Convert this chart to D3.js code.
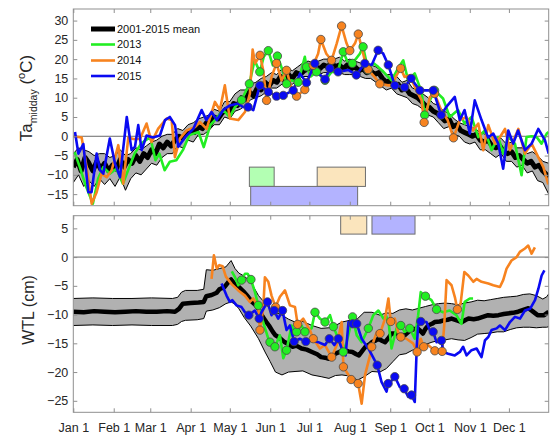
<!DOCTYPE html>
<html>
<head>
<meta charset="utf-8">
<script src="https://cdn.jsdelivr.net/npm/d3@7"></script>
<style>
  html, body { margin: 0; padding: 0; background: #fff; }
  svg { display: block; font-family: "Liberation Sans", Arial, Helvetica, sans-serif; }
</style>
</head>
<body>
<svg id="chart" width="550" height="435"></svg>
<script>
// ---------- data (day of year, 0 = Jan 1) ----------
const monthDays   = [0, 31, 59, 90, 120, 151, 181, 212, 243, 273, 304, 334];
const monthLabels = ["Jan 1","Feb 1","Mar 1","Apr 1","May 1","Jun 1","Jul 1","Aug 1","Sep 1","Oct 1","Nov 1","Dec 1"];
const taTicks  = [-15, -10, -5, 0, 5, 10, 15, 20, 25, 30];
const wtlTicks = [-25, -20, -15, -10, -5, 0, 5];

const seriesNames = ["2001-2015 mean", "2013", "2014", "2015"];

// Midday air temperature (°C): 2001-2015 mean
const taMean = [[0,-8],[3,-6],[6,-9],[9,-5.5],[12,-7],[15,-9],[18,-6.5],[21,-8.5],[24,-7],[27,-9],[30,-7.5],[33,-8.5],[36,-6],[39,-8],[42,-6],[45,-7],[48,-5],[51,-6.5],[54,-4.5],[57,-5.5],[60,-3.5],[63,-4.5],[66,-2],[69,-3],[72,-1.5],[75,-2.5],[78,-1],[81,0],[84,-0.5],[87,1],[90,1.5],[93,1],[96,2.5],[99,2],[102,3.5],[105,3],[108,5],[111,4.5],[114,6],[117,7],[120,6.5],[123,8.5],[126,8],[129,10],[132,9.5],[135,11.5],[138,10.5],[141,12.5],[144,12],[147,14],[150,13],[153,14.5],[156,14],[159,15.5],[162,14.5],[165,16],[168,15],[171,16.5],[174,16],[177,17],[180,17.5],[183,17],[186,18],[189,17.5],[192,18.5],[195,18],[198,19],[201,18],[204,18.5],[207,17.5],[210,18.5],[213,17.5],[216,18],[219,17],[222,17.5],[225,16.5],[228,17],[231,16],[234,16.5],[237,15],[240,14],[243,14.5],[246,13],[249,13.5],[252,12],[255,12.5],[258,11],[261,10.5],[264,10],[267,9],[270,8],[273,7.5],[276,6.5],[279,6],[282,5],[285,4],[288,4.5],[291,2.5],[294,3],[297,1.5],[300,1],[303,0.5],[306,0],[309,0.5],[312,-1],[315,-1.5],[318,-1],[321,-2.5],[324,-3],[327,-2.5],[330,-4],[333,-4.5],[336,-4],[339,-5.5],[342,-5],[345,-6],[348,-7],[351,-6.5],[354,-8],[357,-7.5],[360,-9],[363,-10],[364.5,-10.5]];
// spread of the mean: [day, low, high]
const taBand = [[0,-12,-4.5],[4,-10,-3],[8,-13,-3.5],[12,-11.5,-4],[16,-13,-5],[20,-11,-4.5],[24,-12.5,-4.5],[28,-11,-5.5],[32,-13,-5],[36,-10.5,-3.5],[40,-14,-5],[44,-11,-4.5],[48,-9.5,-3],[52,-10,-3.5],[56,-8.5,-2.5],[60,-7,-1.5],[64,-7.5,-1],[68,-5.5,0],[72,-4.5,0.5],[76,-4.5,0.5],[80,-2.5,2],[84,-3,1.5],[88,-1,3],[92,-1.5,3.5],[96,0.5,4.5],[100,0.5,5],[104,1.5,5.5],[108,3,7],[112,3,6.5],[116,5,9],[120,4.5,9],[124,6.5,11],[128,7,12],[132,8,12],[136,9.5,13.5],[140,10,14],[144,10.5,15],[148,11.5,15.5],[152,12.5,16.5],[156,12.5,16],[160,13.5,17.5],[164,13.5,17.5],[168,13.5,17],[172,14.5,18],[176,15.5,19],[180,15.5,19.5],[184,16,19],[188,16,19.5],[192,16.5,20],[196,16.5,20],[200,16.5,20],[204,16.5,20.5],[208,16,19.5],[212,16,20],[216,16,19.5],[220,15.5,19],[224,15,18.5],[228,15,18.5],[232,14,18],[236,13,17],[240,12,16],[244,12.5,16],[248,11,15.5],[252,10.5,14],[256,10,14.5],[260,8.5,12.5],[264,8,12],[268,7,11],[272,5.5,10],[276,5,8.5],[280,3.5,8],[284,2,6.5],[288,2.5,6],[292,0.5,4.5],[296,0,3.5],[300,-1.5,3],[304,-2,2.5],[308,-1.5,2],[312,-3.5,1],[316,-3.5,0.5],[320,-4.5,0],[324,-5.5,-0.5],[328,-4.5,-0.5],[332,-6.5,-2],[336,-6.5,-1.5],[340,-8,-3],[344,-7.5,-3],[348,-9.5,-4.5],[352,-9,-4],[356,-11.5,-5],[360,-12,-6.5],[364.5,-15,-7]];

// Midday air temperature by year: [day, value, sampled (1 = campaign day)]
const ta2013 = [[1,-4.1],[5,-8],[9,-12.3],[15,-17.5],[19,-11],[23,-8],[28,-9.7],[33,-8.4],[38,-12.3],[42,-8.8],[47,-4.5],[52,-1.9],[59,-0.2],[63,-6.2],[66,-4.5],[70,-8.8],[74,-6.6],[79,-6.2],[84,-3.6],[89,0.3],[96,1.1],[100,-2.8],[105,2.9],[110,4.7],[115,6.8],[120,5],[124,7.6],[129,9.4,1],[135,13.6,1],[139,19.7],[143,16.7,1],[146,20.6],[149.5,22.2,1],[153,18.4],[156.5,20.8,1],[160,17.5],[163.5,13.6,1],[167,14.5],[172.4,14,1],[177.5,20.6],[178.8,18,1],[182,15.5],[186.5,16.7,1],[193,14.5,1],[198,16.7],[203,17],[207,21.9,1],[210,19.5],[214,18.9,1],[219.7,21.4],[222.2,23.2,1],[226,17.2,1],[230,19],[233.7,18],[237,17],[241.4,15.4],[244,14.5],[249,17.6],[253,19.7],[256.7,14.5],[261.8,16.3],[267,11.5],[269.4,5.5,1],[273,9],[277,11.9,1],[283.5,9.8],[288.6,5],[295,6.8],[300,3.3],[305.3,5],[310.5,-0.2],[315.6,1.5],[320.7,-3.6],[325.8,-0.2],[329.6,-4.5],[333.5,-0.2],[338.6,-1.9],[343.7,-10.1],[347.5,-0.2],[351.4,0],[355.2,-0.2],[359,-1.9],[363,0.7],[364.5,1.1]];
const ta2014 = [[0,0],[6.4,-0.3],[10.2,-8],[14.1,-17.5],[17.9,-14.5],[21.7,-9.7],[25.6,-10.6],[29.4,-8.8],[34.5,-2.3],[38.3,-12.3],[42.2,-0.3],[46,-0.7],[51.1,-0.7],[56.2,3.3],[60,-1.5],[65.1,2],[71.5,4.6],[75.4,4.2],[77.9,-5.4],[81.7,-0.6],[86.9,1.5],[93.3,2.4],[97.1,3.7],[102.2,1.9],[108.6,8.9],[112.4,6.8],[116.2,13.2],[120,4.6],[126.5,4.2],[131.6,6.3],[135.4,11.1],[137.5,22.5],[139.4,18.9],[143.2,21,1],[145.6,17.1],[148.2,9.3,1],[152,15.4],[155.8,18.9,1],[159.7,14.5],[163.5,17.1,1],[167.3,12.4],[171.2,10.4,1],[177.5,12.1,1],[183.9,18.4,1],[187.7,21.4],[189.8,25.1,1],[194,21.4],[198,19.7,1],[202,24.1],[205.7,28.6,1],[209.5,24.1],[212,22.2,1],[216,24.1],[218.5,26.5,1],[223.5,19.7],[226,17.3,1],[231,15.4],[235,13.6,1],[241.4,13.2],[244,13.2],[247.8,15.8],[251,17.6,1],[254,15.4],[258,15.8],[263,11.9],[267,9.4],[269,3.6,1],[273.4,10.2],[277,11.1,1],[282,6.8],[287,4.2],[291.5,-0.4,1],[296.3,4.2],[301.4,5],[306.5,1.5],[310.5,3.3],[314.3,-3.6],[318.2,2.9],[323.3,-1.9],[327.2,-0.2],[331,1.9],[334.8,-3.6],[338.6,-0.2],[341.2,1.9],[346.3,-4.5],[351.4,-1.9],[356.5,-5.4],[360.4,-8],[364.2,-12.5]];
const ta2015 = [[1.3,1.1],[3.9,-4.5],[7.7,-2],[11.5,-14.5],[14,-14.5],[17.9,-4.5],[20.5,-8.8],[23,-9.7],[28,-0.6],[32,-7.1],[35.8,-10.6],[41,5],[44.7,-3.6],[47.3,-2.7],[49.8,2.9],[52.4,-3.6],[56.2,0.2],[61,-0.3],[66.4,0.2],[70.3,4.2],[74,5],[78,2.9],[80.5,-2.7],[85.6,-0.3],[92,1.9],[98.4,6.8],[102,4.2],[106,6.3],[110,4.2],[115,6.8],[120,8],[126.5,8.5],[130,7.6],[134,7.6,1],[138,6.8],[143,13.2,1],[149.5,11.5,1],[155.8,10.4,1],[161,10.6,1],[168.6,11.9,1],[173.8,16.3],[178.8,13.9,1],[185.2,18.9,1],[189,16],[193,14.8,1],[196.7,17.6,1],[203,16.7,1],[210.8,17.2],[217,15.9,1],[223.5,18.9,1],[228.8,18.5],[233.7,22.3,1],[237.5,21.5],[241.5,18.5,1],[246.5,13.2,1],[254,12.7,1],[259,15,1],[265.7,11.9,1],[276,11.9,1],[282,5.5,1],[286,7.6],[292.5,10.2],[296.3,4.2],[300,6.8],[304,0.7],[307.8,9.3],[313,4.2],[318,-0.3],[322,0.7],[325.8,-1.9],[329.6,-8.4],[333.5,1.5],[337.3,-1.9],[341,1.5],[346.3,-3.6],[351.4,-1.9],[356.5,1.9],[361.6,-1],[364.5,-4.5]];

// Water table level (cm): 2001-2015 mean and spread
const wtlMean = [[0,-9.5],[8,-9.6],[16,-9.4],[24,-9.5],[32,-9.6],[40,-9.5],[48,-9.4],[56,-9.5],[64,-9.5],[72,-9.4],[78,-9.5],[81,-9.0],[84,-8.1],[90,-8.0],[96,-7.9],[100,-7.8],[102,-6.8],[106,-6.6],[110,-6.2],[112,-5.6],[116,-5.2],[119,-4.3],[121,-3.9],[123,-4.5],[127,-5.2],[131,-6.1],[134,-6.9],[137,-7.8],[140,-8.4],[142,-9.0],[145,-10.3],[148,-11.3],[150,-11.9],[153,-13.0],[155,-13.6],[158,-14.0],[162,-14.8],[165,-15.1],[168,-15.6],[171,-15.4],[175,-15.9],[179,-16.1],[183,-16.5],[187,-16.9],[190,-17.4],[193,-17.5],[196,-17.7],[199,-17.2],[201,-16.8],[204,-16.5],[208,-16.2],[211,-16.4],[214,-16.5],[217,-16.9],[219,-17.1],[222,-16.2],[224,-15.6],[227,-15.2],[229,-14.8],[232,-14.5],[234,-14.2],[237,-14.6],[239,-14.8],[242,-14.0],[244,-13.3],[247,-13.3],[250,-13.5],[254,-13.6],[257,-13.0],[259,-12.7],[262,-12.5],[264,-12.4],[266,-12.8],[268,-13.3],[270,-12.5],[272,-11.9],[275,-11.6],[277,-11.3],[281,-11.2],[284,-11.0],[287,-10.9],[290,-10.7],[294,-11.0],[298,-11.3],[301,-10.9],[303,-10.7],[307,-10.8],[310,-10.7],[314,-10.4],[318,-10.1],[322,-10.2],[326,-10.1],[330,-9.9],[333,-9.8],[337,-9.7],[341,-9.5],[345,-9.2],[349,-8.9],[352,-9.4],[356,-10.1],[361,-10.1],[364.5,-9.5]];
const wtlBand = [[0,-11.9,-7.2],[15,-11.8,-7.1],[30,-11.9,-7.2],[45,-11.8,-7.2],[60,-11.9,-7.1],[76,-11.9,-7.2],[80,-11.7,-7.0],[83,-11.2,-6.1],[86,-11.0,-5.8],[95,-10.9,-5.8],[100,-10.7,-5.6],[102,-9.4,-2.2],[107,-9.2,-2.3],[112,-8.8,-2.0],[117,-8.1,-1.7],[121,-7.8,-0.6],[124,-8.2,-2.0],[127,-9.0,-2.8],[131,-10.5,-3.3],[136,-12.0,-4.3],[142,-14.2,-6.7],[147,-16.5,-8.0],[151,-18.2,-9.0],[155,-20.0,-9.6],[160,-20.5,-10.1],[165,-20.0,-10.8],[170,-19.9,-11.3],[176,-19.8,-11.2],[183,-20.5,-11.9],[190,-20.8,-12.4],[196,-21.1,-12.3],[201,-20.6,-11.9],[206,-20.5,-11.3],[212,-20.7,-11.0],[218,-21.4,-10.7],[223,-20.8,-9.6],[229,-19.9,-9.6],[235,-20.0,-10.1],[240,-19.4,-9.7],[245,-18.2,-9.8],[250,-17.0,-9.2],[255,-16.8,-9.0],[260,-16.2,-9.2],[265,-15.9,-8.9],[270,-15.2,-8.6],[275,-14.8,-8.3],[280,-14.5,-8.1],[285,-14.4,-8.0],[290,-14.2,-8.1],[295,-14.4,-8.3],[300,-14.5,-8.0],[305,-14.0,-7.8],[310,-13.4,-7.5],[315,-13.3,-7.6],[320,-13.2,-7.4],[325,-13.0,-7.2],[330,-13.0,-7.0],[335,-12.6,-6.9],[340,-12.3,-6.8],[345,-12.2,-6.5],[350,-12.2,-6.4],[355,-12.3,-6.7],[360,-12.2,-7.3],[363,-12.2,-6.9],[364.5,-12.1,-6.4]];

// Water table level by year: [day, value, sampled]
const wtl2013 = [[121.5,-2.5],[124,-3.5],[126.5,-4.9],[129,-4.0,1],[131.6,-2.9],[133.6,-2.9],[136.2,-3.9,1],[139.3,-6.1],[141.8,-8.4,1],[145.6,-11.3],[149.5,-14.2],[150.8,-14.8,1],[154.6,-15.6,1],[158.4,-13.6],[161,-17.6],[163.5,-16.2,1],[167.4,-11.9],[170,-13],[171.2,-13.0,1],[175,-11.9],[177.6,-13.0,1],[182.7,-12.4],[185.3,-9.6,1],[189.1,-10.7],[193,-11.3,1],[196.8,-10.1],[199.4,-12.1,1],[203.2,-14.2],[207,-16.5,1],[209.6,-14.8],[214.1,-10.4,1],[217.3,-13.6],[221.1,-14.8],[226.2,-12.4,1],[230,-10.1],[233.9,-9.3],[237.8,-10.7],[240,-10.3],[242,-11.9],[244,-15.9],[247.8,-12.4],[251.1,-11.9,1],[254,-13.0],[258,-12.4,1],[261.8,-14.2],[264.4,-10.1],[266.4,-6.1],[270,-6.8,1],[274.6,-7.5],[278.5,-9.1,1],[283.5,-9.6],[288.6,-9.3],[293.7,-10.1],[297.6,-11.6],[300.1,-7.8],[304,-7.2],[306.5,-7.2]];
const wtl2014 = [[106,-3.8],[107.8,0.3],[110,-2.0],[112,-1.4],[114.5,-1.6],[117,-3.4],[121.4,-4.7],[126.5,-5.8],[131.6,-6.7],[135.4,-7.8],[138,-7.2],[141.8,-8.7],[143.1,-12.7,1],[145.6,-9.0],[146.9,-3.5],[149.5,-4.3],[152,-6.7],[155.1,-8.7,1],[158.4,-6.9],[162.3,-5.8],[166.1,-8.4],[170,-8.7],[172,-11.7,1],[176.3,-10.7],[181.4,-12.7],[184,-14.2,1],[189.1,-15.9],[193,-15.3],[198.1,-17.4,1],[202,-15.3],[205.8,-11.3],[207.1,-19.1,1],[211,-20.5],[213,-21.3,1],[216.3,-21.7],[218.4,-22,1],[221.1,-25.5],[223.7,-20.5],[227.5,-17.1],[228.8,-15.6,1],[232.7,-13],[235.2,-13.3,1],[239,-10.7],[241.6,-7.2],[243.4,-11.2,1],[246.5,-10.7],[249,-13],[251.1,-13.9,1],[255.4,-14.2],[260.5,-15.0],[263.6,-16.5,1],[266.4,-14.2],[268.7,-15.6,1],[272,-15.3],[277.2,-16.3,1],[282.8,-16.4,1],[284.4,-11.9],[286.2,-4.0],[290,-4.9],[292.6,-7.0],[294.5,-9.1,1],[297,-8.0],[299.8,-2.6],[302.8,-3.2],[306.7,-4.3],[309.2,-3.8],[313,-4.3],[318.2,-4.6],[322,-4.9],[327.1,-5.2],[329.6,-4.0],[332.2,-2.0],[336,-0.6],[339.9,0],[342.4,0.9],[346.3,1.5],[348.8,2.0],[351.4,0.6],[353.9,1.7]];
const wtl2015 = [[113.7,-4.6],[117.5,-6.7],[120,-7.8],[122,-7.5],[125.2,-8.4],[129,-8.7],[131.6,-9.6],[134.6,-10.1,1],[139.2,-9.3],[142.5,-10.7,1],[144.3,-9.6],[148.9,-7.8,1],[152,-10.1],[154,-9.3,1],[157.1,-10.7],[160.4,-9.3,1],[163.5,-12.7],[166.1,-11.9],[169.3,-14.7,1],[173.7,-14.2],[178.3,-14.7,1],[182.7,-14.5],[187.8,-14.8],[193,-15.3],[196.3,-14.2,1],[200.1,-15.3],[203.2,-14.2,1],[205.8,-15.9],[208.8,-17.1],[211,-11.3],[214.3,-11.6,1],[217.3,-11.6,1],[221.1,-14.2],[226.2,-15.9],[230,-17.5],[233,-18.8,1],[236.3,-21.7],[240.2,-23.4],[241.4,-22,1],[244,-21.5],[246.5,-20.8,1],[250.3,-22.6],[253.7,-22.9,1],[256.7,-24.3],[259.3,-24.0,1],[261.8,-25.2],[263.4,-15.3],[264.4,-11.9],[266.4,-11.2,1],[270.8,-11.3],[273.3,-12.7],[275.9,-13.0,1],[278.5,-14.8],[282.3,-14.5,1],[283.6,-16.5],[287.4,-16.8],[292.5,-17.1],[296.4,-16.5],[298.9,-15.6],[301.5,-17.1],[305.3,-16.2],[309.2,-15.9],[313,-17.4],[315.6,-14.5],[318.2,-13.9],[320.7,-12.7],[324.6,-12.4],[327.1,-11.9],[331,-12.7],[334.8,-11.3],[338.6,-10.4],[342.5,-10.7],[346.3,-9.3],[350.2,-9.0],[354,-7.5],[356.6,-5.5],[359.1,-3.2],[361.2,-2.3]];

// Campaign periods: [year, first day, last day, lower value, upper value]
const taPeriods  = [[2013, 135, 154, -13, -8], [2014, 187, 224, -13, -8], [2015, 136, 218, -18, -13]];
const wtlPeriods = [[2014, 205, 225, 4, 7.2], [2015, 229, 262, 4, 7.2]];

// ---------- drawing ----------
const colors = { mean: "#000000", 2013: "#22ee22", 2014: "#f7831f", 2015: "#0a0af2" };
const periodFill = { 2013: "#b3ffb3", 2014: "#fbe5bd", 2015: "#b3b3ff" };
const boxColor = "#8f8f8f";
const textColor = "#262626";

const svg = d3.select("#chart");
const x = d3.scaleLinear().domain([0, 364.5]).range([73.3, 548.7]);
const yTa  = d3.scaleLinear().domain([-18, 33]).range([205.7, 9]);
const yWtl = d3.scaleLinear().domain([-27, 7.2]).range([412.3, 215.7]);

function panel(id, y, ticks, showXLabels) {
  const [y0, y1] = y.range();
  const [x0, x1] = x.range();
  const g = svg.append("g");
  g.append("clipPath").attr("id", id).append("rect")
    .attr("x", x0).attr("y", y1).attr("width", x1 - x0).attr("height", y0 - y1);
  const plot = g.append("g").attr("clip-path", `url(#${id})`);

  const styleAxis = a => {
    a.select(".domain").remove();
    a.selectAll(".tick line").attr("stroke", boxColor);
    a.selectAll(".tick text").attr("fill", textColor).attr("font-size", 12.5)
      .attr("font-family", "Liberation Sans, Arial, sans-serif");
  };
  g.append("g").attr("transform", `translate(${x0},0)`)
    .call(d3.axisLeft(y).tickValues(ticks).tickSize(-4).tickPadding(5)).call(styleAxis);
  g.append("g").attr("transform", `translate(${x1},0)`)
    .call(d3.axisRight(y).tickValues(ticks).tickSize(-4).tickFormat("")).call(styleAxis);
  g.append("g").attr("transform", `translate(0,${y1})`)
    .call(d3.axisTop(x).tickValues(monthDays).tickSize(-4).tickFormat("")).call(styleAxis);
  g.append("g").attr("transform", `translate(0,${y0})`)
    .call(d3.axisBottom(x).tickValues(monthDays).tickSize(-4).tickPadding(10.5)
      .tickFormat((d, i) => showXLabels ? monthLabels[i] : "")).call(styleAxis);

  return { g, plot };
}

function drawData(p, y, mean, band, years, periods, meanWidth) {
  const { g, plot } = p;
  // campaign periods
  plot.selectAll("rect.period").data(periods).join("rect")
    .attr("x", d => x(d[1])).attr("width", d => x(d[2]) - x(d[1]))
    .attr("y", d => y(d[4])).attr("height", d => y(d[3]) - y(d[4]))
    .attr("fill", d => periodFill[d[0]]).attr("stroke", "#6e6e6e").attr("stroke-width", 1);
  // zero line
  plot.append("line").attr("x1", x.range()[0]).attr("x2", x.range()[1])
    .attr("y1", y(0)).attr("y2", y(0)).attr("stroke", "#6a6a6a").attr("stroke-width", 1);
  // spread band of the mean
  plot.append("path").datum(band)
    .attr("d", d3.area().x(d => x(d[0])).y0(d => y(d[1])).y1(d => y(d[2])))
    .attr("fill", "#b1b1b1");
  [1, 2].forEach(k => plot.append("path").datum(band)
    .attr("d", d3.line().x(d => x(d[0])).y(d => y(d[k])))
    .attr("fill", "none").attr("stroke", "#000").attr("stroke-width", 1));
  // mean
  const line = d3.line().x(d => x(d[0])).y(d => y(d[1]));
  plot.append("path").datum(mean).attr("d", line)
    .attr("fill", "none").attr("stroke", colors.mean).attr("stroke-width", meanWidth)
    .attr("stroke-linejoin", "round");
  // yearly series
  years.forEach(([yr, s]) => plot.append("path").datum(s).attr("d", line)
    .attr("fill", "none").attr("stroke", colors[yr]).attr("stroke-width", 2.6)
    .attr("stroke-linejoin", "round"));
  years.forEach(([yr, s]) => plot.selectAll(null).data(s.filter(d => d[2] === 1)).join("circle")
    .attr("cx", d => x(d[0])).attr("cy", d => y(d[1])).attr("r", 4.2)
    .attr("fill", colors[yr]).attr("stroke", "#4a4a4a").attr("stroke-width", 0.8));
  // frame
  const [y0, y1] = y.range(), [x0, x1] = x.range();
  g.append("rect").attr("x", x0).attr("y", y1).attr("width", x1 - x0).attr("height", y0 - y1)
    .attr("fill", "none").attr("stroke", boxColor).attr("stroke-width", 1);
}

const taPanel = panel("clipTa", yTa, taTicks, false);
drawData(taPanel, yTa, taMean, taBand, [[2013, ta2013], [2014, ta2014], [2015, ta2015]], taPeriods, 5);
const wtlPanel = panel("clipWtl", yWtl, wtlTicks, true);
drawData(wtlPanel, yWtl, wtlMean, wtlBand, [[2013, wtl2013], [2014, wtl2014], [2015, wtl2015]], wtlPeriods, 4.5);

// legend
const legend = svg.append("g").attr("transform", "translate(91,29)");
seriesNames.forEach((name, i) => {
  const key = i === 0 ? "mean" : name;
  const row = legend.append("g").attr("transform", `translate(0,${[0, 15.5, 31.5, 47][i]})`);
  row.append("line").attr("x1", 0).attr("x2", 24).attr("stroke", colors[key])
    .attr("stroke-width", i === 0 ? 5 : 2.6);
  row.append("text").attr("x", 26).attr("dy", "0.35em").attr("font-size", 11)
    .attr("fill", "#111").text(name);
});

// axis titles
const taTitle = svg.append("text").attr("transform", "translate(31.5,98) rotate(-90)")
  .attr("text-anchor", "middle").attr("font-size", 17).attr("fill", textColor);
taTitle.append("tspan").text("Ta");
taTitle.append("tspan").attr("font-size", 10.5).attr("dy", 5).text("midday");
taTitle.append("tspan").attr("dy", -5).text(" (");
taTitle.append("tspan").attr("font-size", 11).attr("dy", -7).text("o");
taTitle.append("tspan").attr("dy", 7).text("C)");

svg.append("text").attr("transform", "translate(34,310) rotate(-90)")
  .attr("text-anchor", "middle").attr("font-size", 16).attr("fill", textColor).text("WTL (cm)");
</script>
</body>
</html>
